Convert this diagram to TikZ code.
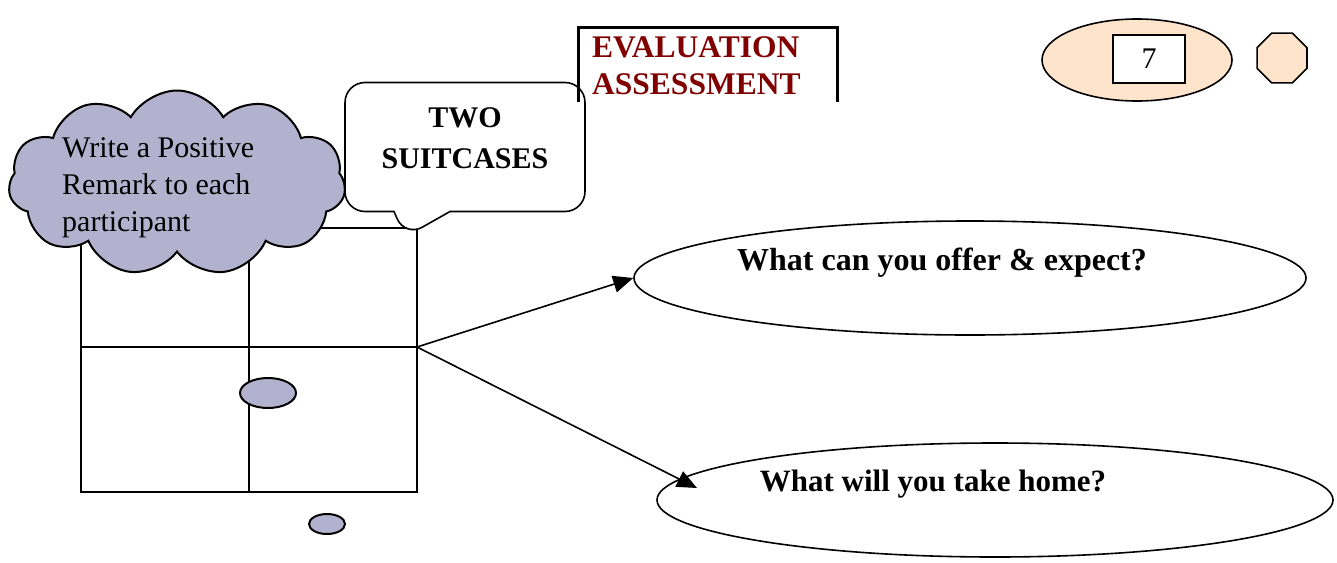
\documentclass[tikz,border=0pt]{standalone}
\usepackage{fontspec}
\setmainfont{Liberation Serif}
\usetikzlibrary{positioning,shapes.geometric,shapes.symbols,shapes.callouts,arrows.meta}
\definecolor{cloudColor}{RGB}{178,178,206}
\definecolor{peachColor}{RGB}{255,228,204}
\definecolor{titleColor}{RGB}{128,0,0}
\tikzstyle{diagram} = [x = 1pt, y = -1pt]
\tikzstyle{gridLine} = [color=black, line width=1.6pt]
\tikzstyle{plainText} = [font=\fontsize{30}{37}\selectfont, inner sep=0pt, align=left]
\tikzstyle{boldText} = [font=\fontsize{30}{41}\selectfont\bfseries, inner sep=0pt, align=center]
\tikzstyle{questionText} = [font=\fontsize{32}{38}\selectfont\bfseries, inner sep=0pt]
\tikzstyle{questionStyle} = [draw, ellipse, line width=1.6pt, inner sep=0pt]
\tikzstyle{bubbleStyle} = [draw, fill=cloudColor, ellipse, line width=2pt, inner sep=0pt]
\tikzstyle{arrowStyle} = [line width=1.6pt, -{Triangle[length=20pt, width=17pt]}]

\begin{document}
\begin{tikzpicture}[diagram]
  \useasboundingbox (0,0) rectangle (1337,562);

  \draw [gridLine] (81,228) rectangle (417,492);
  \draw [gridLine] (81,347) -- (417,347);
  \draw [gridLine] (249,228) -- (249,492);
  \coordinate (gridMid) at (417,347);

  \node [bubbleStyle, minimum width=56pt, minimum height=30pt] (bubbleBig) at (268,393) {};
  \node [bubbleStyle, minimum width=36pt, minimum height=20pt] (bubbleSmall) at (327,524) {};

  \node [cloud, draw, fill=cloudColor, line width=2pt, cloud puffs=11, cloud puff arc=120,
         aspect=1.8, minimum width=337pt, minimum height=185pt] (remarkCloud) at (177,183) {};
  \node [plainText, anchor=north west] (remarkText) at (62,137)
        {Write a Positive\\Remark to each\\participant};

  \coordinate (bubbleTip) at (405,237);
  \node [rectangle callout, draw, fill=white, line width=1.6pt, rounded corners=20pt,
         minimum width=240pt, minimum height=129pt, callout pointer width=56pt,
         callout absolute pointer={(bubbleTip)}] (suitCallout) at (465,147) {};
  \node [boldText] (suitText) at (465,138) {TWO\\SUITCASES};

  \draw [line width=3pt] (578,102) -- (578,27) -- (837,27) -- (837,102);
  \node [plainText, font=\fontsize{31.5}{37}\selectfont\bfseries, text=titleColor, anchor=north west]
        (evalText) at (592,36) {EVALUATION\\ASSESSMENT};

  \node [questionStyle, fill=peachColor, minimum width=190pt, minimum height=82pt] (pageOval) at (1137,60) {};
  \node [draw, fill=white, line width=1.6pt, minimum width=72pt, minimum height=48pt,
         font=\fontsize{30}{37}\selectfont] (pageBox) at (1149,59) {7};
  \node [regular polygon, regular polygon sides=8, draw, fill=peachColor, line width=1.6pt,
         minimum size=54pt, inner sep=0pt] (pageStop) at (1282,58) {};

  \node [questionStyle, minimum width=672pt, minimum height=114pt] (offerOval) at (970,278) {};
  \node [questionText] (offerText) at (942,263) {What can you offer \& expect?};
  \node [questionStyle, minimum width=676pt, minimum height=114pt] (homeOval) at (995,500) {};
  \node [questionText, font=\fontsize{31}{38}\selectfont\bfseries] (homeText) at (933,484) {What will you take home?};

  \coordinate (homeTip) at (697,488);
  \draw [arrowStyle] (gridMid) -- (offerOval.west);
  \draw [arrowStyle] (gridMid) -- (homeTip);
\end{tikzpicture}
\end{document}
